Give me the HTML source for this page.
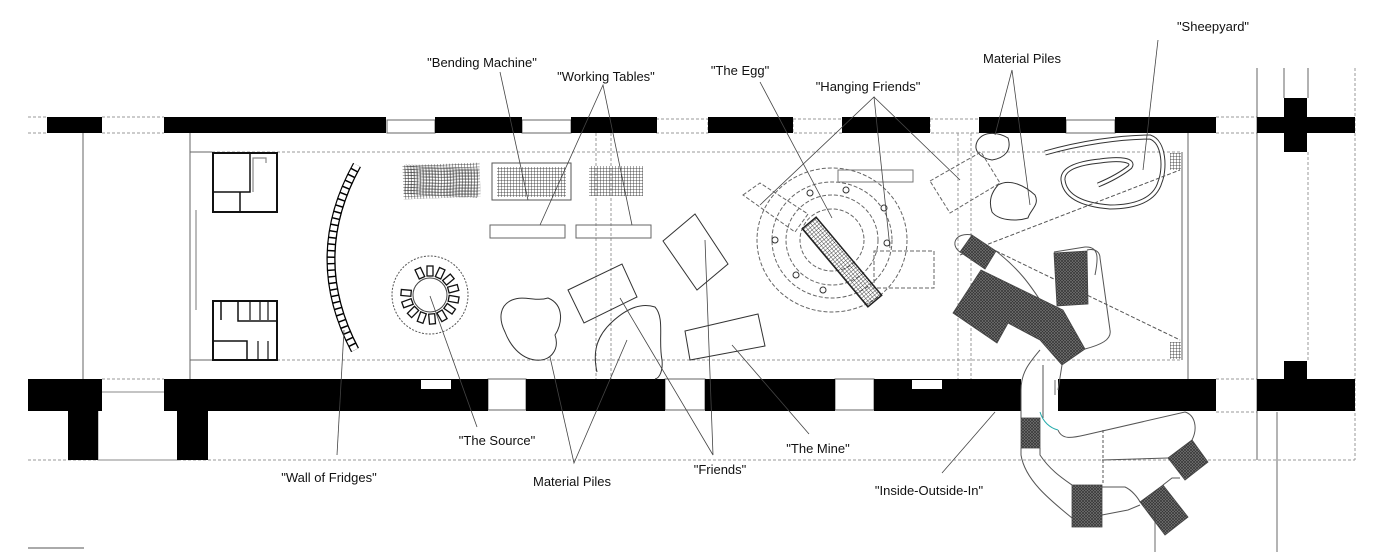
<!DOCTYPE html>
<html><head><meta charset="utf-8"><style>
html,body{margin:0;padding:0;background:#fff;}
svg{display:block}
text{font-family:"Liberation Sans Narrow","Liberation Sans",sans-serif;font-size:13px;fill:#111;text-anchor:middle}
</style></head><body>
<svg width="1400" height="552" viewBox="0 0 1400 552" xmlns="http://www.w3.org/2000/svg">
<defs>
<pattern id="mesh" width="3" height="3" patternUnits="userSpaceOnUse"><path d="M0 0H3M0 0V3" stroke="#222" stroke-width="0.8"/></pattern>
<pattern id="hatch" width="3" height="3" patternUnits="userSpaceOnUse"><rect width="3" height="3" fill="#777"/><path d="M0 0L3 3M3 0L0 3" stroke="#333" stroke-width="0.7"/></pattern>
</defs>
<!-- dashed guide lines -->
<g stroke="#999" stroke-width="1" fill="none" stroke-dasharray="3 2">
<line x1="28" y1="117" x2="47" y2="117"/><line x1="28" y1="133" x2="47" y2="133"/>
<line x1="102" y1="117" x2="164" y2="117"/><line x1="102" y1="133" x2="164" y2="133"/>
<line x1="1216" y1="117" x2="1257" y2="117"/><line x1="1216" y1="133" x2="1257" y2="133"/>
<line x1="1216" y1="379" x2="1257" y2="379"/><line x1="1216" y1="412" x2="1257" y2="412"/>
<line x1="102" y1="379" x2="164" y2="379"/>
<line x1="28" y1="460" x2="1355" y2="460"/>
<line x1="1355" y1="68" x2="1355" y2="460"/>
<line x1="1308" y1="152" x2="1308" y2="361"/>
<rect x="656" y="119" width="52" height="14"/><rect x="793" y="119" width="50" height="14"/><rect x="930" y="119" width="50" height="14"/>
<line x1="212" y1="152" x2="1180" y2="152"/><line x1="212" y1="360" x2="1180" y2="360"/>
<line x1="596" y1="133" x2="596" y2="379"/><line x1="611" y1="133" x2="611" y2="379"/>
<line x1="958" y1="133" x2="958" y2="379"/><line x1="971" y1="133" x2="971" y2="379"/>
</g>
<!-- thin lines -->
<g stroke="#666" stroke-width="1" fill="none">
<line x1="83" y1="133" x2="83" y2="379"/>
<line x1="190" y1="133" x2="190" y2="379"/>
<line x1="190" y1="152" x2="212" y2="152"/><line x1="190" y1="360" x2="212" y2="360"/>
<line x1="1182" y1="152" x2="1182" y2="360"/><line x1="1188" y1="133" x2="1188" y2="379"/>
<line x1="1257" y1="68" x2="1257" y2="460"/>
<line x1="1284" y1="68" x2="1284" y2="98"/><line x1="1308" y1="68" x2="1308" y2="98"/>
<rect x="387" y="120" width="48" height="13"/><rect x="522" y="120" width="49" height="13"/><rect x="1066" y="120" width="49" height="13"/>
<rect x="488" y="379" width="38" height="31"/><rect x="665" y="379" width="40" height="31"/><rect x="835" y="379" width="39" height="31"/>
<rect x="98" y="392" width="80" height="68" stroke="#888"/>
<line x1="196" y1="210" x2="196" y2="310" stroke="#bbb" stroke-width="2"/>
<line x1="28" y1="548" x2="84" y2="548" stroke="#aaa" stroke-width="2"/>
</g>
<!-- walls -->
<g fill="#000">
<rect x="47" y="117" width="55" height="16"/><rect x="164" y="117" width="222" height="16"/>
<rect x="435" y="117" width="87" height="16"/><rect x="571" y="117" width="86" height="16"/>
<rect x="708" y="117" width="85" height="16"/><rect x="842" y="117" width="88" height="16"/>
<rect x="979" y="117" width="87" height="16"/><rect x="1115" y="117" width="101" height="16"/>
<rect x="1257" y="117" width="98" height="16"/><rect x="1284" y="98" width="23" height="54"/>
<rect x="28" y="379" width="74" height="32"/><rect x="68" y="379" width="30" height="81"/>
<rect x="164" y="379" width="324" height="32"/><rect x="177" y="379" width="31" height="81"/>
<rect x="526" y="379" width="139" height="32"/><rect x="705" y="379" width="130" height="32"/>
<rect x="874" y="379" width="147" height="32"/><rect x="1058" y="379" width="158" height="32"/>
<rect x="1257" y="379" width="98" height="32"/><rect x="1284" y="361" width="23" height="20"/>
</g>
<rect x="421" y="380" width="30" height="9" fill="#fff"/><rect x="912" y="380" width="30" height="9" fill="#fff"/>
<!-- kitchens -->
<g stroke="#111" stroke-width="2" fill="none">
<rect x="213" y="153" width="64" height="59"/>
<polyline points="213,192 250,192 250,153" stroke-width="1.5"/><line x1="240" y1="192" x2="240" y2="212" stroke-width="1.5"/>
<polyline points="253,192 253,158 266,158 266,163" stroke="#888" stroke-width="1.2"/>
<rect x="213" y="301" width="64" height="59"/>
<polyline points="213,341 247,341 247,360" stroke-width="1.5"/><polyline points="277,321 238,321 238,301" stroke-width="1.5"/>
<line x1="221" y1="301" x2="221" y2="320" stroke-width="1.5"/><line x1="250" y1="301" x2="250" y2="320" stroke-width="1.2"/><line x1="260" y1="301" x2="260" y2="320" stroke-width="1.2"/><line x1="268" y1="301" x2="268" y2="320" stroke-width="1.2"/>
<line x1="258" y1="341" x2="258" y2="360" stroke-width="1.2"/><line x1="268" y1="341" x2="268" y2="360" stroke-width="1.2"/>
</g>
<!-- wall of fridges -->
<path d="M357 165 Q306 257 355 350" stroke="#000" stroke-width="9" fill="none"/>
<path d="M357 165 Q306 257 355 350" stroke="#fff" stroke-width="6.5" fill="none" stroke-dasharray="5 1.5"/>
<!-- bending machine / meshes -->
<rect x="403" y="164" width="77" height="34" fill="url(#mesh)" transform="rotate(-2 441 181)"/>
<rect x="405" y="166" width="73" height="30" fill="url(#mesh)" transform="rotate(3 441 181)" opacity="0.8"/>
<rect x="492" y="163" width="79" height="37" fill="none" stroke="#555"/>
<rect x="497" y="167" width="69" height="30" fill="url(#mesh)"/>
<rect x="589" y="166" width="54" height="30" fill="url(#mesh)"/>
<rect x="490" y="225" width="75" height="13" fill="none" stroke="#666"/>
<rect x="576" y="225" width="75" height="13" fill="none" stroke="#666"/>
<!-- the source -->
<ellipse cx="430" cy="295" rx="38" ry="39" fill="none" stroke="#555" stroke-dasharray="2 1.5"/>
<circle cx="430" cy="295" r="17" fill="none" stroke="#444"/>
<g stroke="#111" stroke-width="1.3" fill="#fff">
<rect x="427" y="266" width="6" height="10" transform="rotate(0 430 295)"/>
<rect x="427" y="266" width="6" height="10" transform="rotate(25 430 295)"/>
<rect x="427" y="266" width="6" height="10" transform="rotate(50 430 295)"/>
<rect x="427" y="266" width="6" height="10" transform="rotate(75 430 295)"/>
<rect x="427" y="266" width="6" height="10" transform="rotate(100 430 295)"/>
<rect x="427" y="266" width="6" height="10" transform="rotate(125 430 295)"/>
<rect x="427" y="266" width="6" height="10" transform="rotate(150 430 295)"/>
<rect x="427" y="266" width="6" height="10" transform="rotate(175 430 295)"/>
<rect x="427" y="266" width="6" height="10" transform="rotate(200 430 295)"/>
<rect x="427" y="266" width="6" height="10" transform="rotate(225 430 295)"/>
<rect x="427" y="266" width="6" height="10" transform="rotate(250 430 295)"/>
<rect x="427" y="266" width="6" height="10" transform="rotate(275 430 295)"/>
<rect x="427" y="266" width="6" height="10" transform="rotate(335 430 295)"/>
</g>
<!-- friends / mine / piles -->
<g stroke="#333" stroke-width="1" fill="none">
<polygon points="568,290 622,264 637,297 584,323"/>
<polygon points="663,241 695,214 728,264 697,290"/>
<polygon points="685,331 758,314 765,346 690,360"/>
<path d="M512 300 C525 295 535 302 548 298 C565 305 562 325 555 335 C560 350 550 362 535 360 C520 358 510 345 505 332 C498 318 500 305 512 300Z"/>
<path d="M597 372 C592 350 598 335 612 322 C625 310 640 302 655 307 C665 318 658 340 662 360 C663 370 660 378 655 379"/>
<path d="M978 140 C985 130 1000 133 1008 138 C1012 150 1005 158 992 160 C980 158 972 150 978 140Z"/>
<path d="M998 185 C1010 178 1025 186 1035 195 C1040 205 1030 210 1028 218 C1015 222 998 220 992 212 C988 200 992 192 998 185Z"/>
</g>
<!-- egg -->
<g stroke="#666" stroke-width="1" fill="none" stroke-dasharray="4 2">
<ellipse cx="832" cy="240" rx="75" ry="72"/>
<ellipse cx="832" cy="240" rx="60" ry="58"/>
<ellipse cx="832" cy="240" rx="46" ry="45"/>
<ellipse cx="832" cy="240" rx="32" ry="31"/>
<polygon points="743,195 760,183 808,214 795,232"/>
<rect x="874" y="251" width="60" height="37"/>
<polygon points="930,181 981,152 1000,183 950,213"/>
</g>
<rect x="838" y="170" width="75" height="12" fill="none" stroke="#777"/>
<g stroke="#333" fill="#fff" stroke-width="1">
<circle cx="810" cy="193" r="3"/><circle cx="846" cy="190" r="3"/><circle cx="884" cy="208" r="3"/><circle cx="887" cy="243" r="3"/><circle cx="775" cy="240" r="3"/><circle cx="796" cy="275" r="3"/><circle cx="823" cy="290" r="3"/>
</g>
<g transform="rotate(50 842 262)">
<rect x="791" y="253" width="102" height="18" fill="url(#mesh)" stroke="#222" stroke-width="1.5"/>
</g>
<!-- sheepyard -->
<path d="M1045 153 C1080 143 1120 137 1150 137 C1165 142 1165 170 1160 182 C1155 200 1135 207 1110 207 C1085 205 1065 198 1063 180 C1062 168 1080 163 1100 161 C1120 158 1135 160 1130 167 C1120 175 1110 180 1098 185" stroke="#333" stroke-width="5" fill="none"/>
<path d="M1045 153 C1080 143 1120 137 1150 137 C1165 142 1165 170 1160 182 C1155 200 1135 207 1110 207 C1085 205 1065 198 1063 180 C1062 168 1080 163 1100 161 C1120 158 1135 160 1130 167 C1120 175 1110 180 1098 185" stroke="#fff" stroke-width="3" fill="none"/>
<rect x="1170" y="153" width="11" height="17" fill="url(#mesh)"/><rect x="1170" y="342" width="11" height="17" fill="url(#mesh)"/>
<!-- inside-outside-in -->
<g stroke="#555" stroke-width="1" fill="none">
<path d="M960 252 C950 245 955 232 972 235"/>
<path d="M996 251 C1020 270 1030 285 1040 300"/>
<path d="M1087 250 C1095 248 1100 252 1100 258 L1110 330 C1112 340 1100 345 1085 349"/>
<path d="M1054 252 L1085 247 C1100 246 1098 260 1095 275"/>
<path d="M1040 350 C1030 362 1021 372 1021 390 L1021 418"/>
<path d="M1043 365 L1043 418"/>
<path d="M1062 365 L1058 390"/>
<path d="M1021 448 L1021 455 C1025 480 1050 500 1072 518"/>
<path d="M1040 448 L1040 455 C1050 470 1062 478 1072 485"/>
<path d="M1058 430 C1062 440 1072 438 1085 435 L1185 412 C1195 415 1198 428 1192 440"/>
<path d="M1102 487 L1125 487 C1132 490 1138 498 1140 502"/>
<path d="M1102 515 L1128 510 L1140 505"/>
<path d="M1102 460 L1168 458"/>
<path d="M1163 485 L1172 478 L1180 478"/>
<line x1="996" y1="251" x2="1180" y2="340" stroke-dasharray="4 2"/>
<line x1="960" y1="255" x2="1180" y2="170" stroke-dasharray="4 2"/>
<line x1="1103" y1="430" x2="1103" y2="485" stroke-dasharray="3 2"/>
</g>
<g fill="url(#hatch)" stroke="#444" stroke-width="0.8">
<polygon points="960,252 972,235 996,251 985,269"/>
<polygon points="953,313 981,270 1063,310 1085,349 1062,365 1040,340 1008,323 997,343"/>
<polygon points="1054,253 1087,251 1088,304 1057,306"/>
<rect x="1021" y="418" width="19" height="30"/>
<rect x="1072" y="485" width="30" height="42"/>
<polygon points="1168,458 1192,440 1208,462 1185,480"/>
<polygon points="1140,502 1163,485 1188,517 1165,535"/>
</g>
<path d="M1040 412 C1043 422 1050 428 1058 430" stroke="#2aa" fill="none"/>
<!-- leader lines -->
<g stroke="#444" stroke-width="0.8" fill="none">
<line x1="500" y1="72" x2="528" y2="200"/>
<polyline points="540,225 603,85 632,225"/>
<line x1="760" y1="82" x2="832" y2="218"/>
<polyline points="760,205 874,97 890,248"/><line x1="874" y1="97" x2="960" y2="180"/>
<polyline points="995,135 1012,70 1030,205"/>
<line x1="1158" y1="40" x2="1143" y2="170"/>
<line x1="337" y1="455" x2="344" y2="330"/>
<line x1="477" y1="427" x2="430" y2="296"/>
<polyline points="550,357 574,463 627,340"/>
<polyline points="705,240 713,455 620,298"/>
<line x1="809" y1="434" x2="732" y2="345"/>
<line x1="942" y1="473" x2="995" y2="412"/>
<line x1="1055" y1="380" x2="1055" y2="395"/>
<line x1="1155" y1="510" x2="1155" y2="552"/>
<line x1="1277" y1="412" x2="1277" y2="552"/>
</g>
<!-- labels -->
<text x="482" y="67">"Bending Machine"</text>
<text x="606" y="81">"Working Tables"</text>
<text x="740" y="75">"The Egg"</text>
<text x="868" y="91">"Hanging Friends"</text>
<text x="1022" y="63">Material Piles</text>
<text x="1213" y="31">"Sheepyard"</text>
<text x="497" y="445">"The Source"</text>
<text x="329" y="482">"Wall of Fridges"</text>
<text x="572" y="486">Material Piles</text>
<text x="720" y="474">"Friends"</text>
<text x="818" y="453">"The Mine"</text>
<text x="929" y="495">"Inside-Outside-In"</text>
</svg>
</body></html>
